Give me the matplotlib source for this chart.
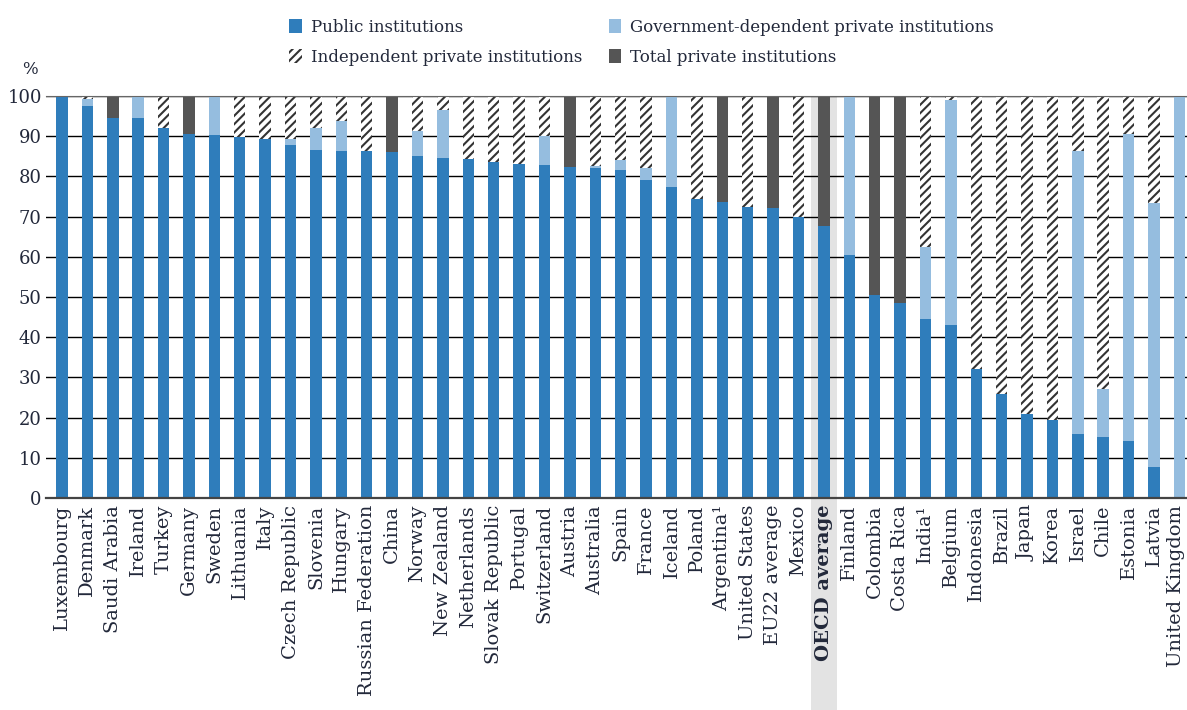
import numpy as np
import matplotlib
matplotlib.use('Agg')
import matplotlib.pyplot as plt

countries = ['Luxembourg', 'Denmark', 'Saudi Arabia', 'Ireland', 'Turkey', 'Germany', 'Sweden',
             'Lithuania', 'Italy', 'Czech Republic', 'Slovenia', 'Hungary', 'Russian Federation',
             'China', 'Norway', 'New Zealand', 'Netherlands', 'Slovak Republic', 'Portugal',
             'Switzerland', 'Austria', 'Australia', 'Spain', 'France', 'Iceland', 'Poland',
             'Argentina¹', 'United States', 'EU22 average', 'Mexico', 'OECD average', 'Finland',
             'Colombia', 'Costa Rica', 'India¹', 'Belgium', 'Indonesia', 'Brazil', 'Japan', 'Korea',
             'Israel', 'Chile', 'Estonia', 'Latvia', 'United Kingdom']

public = [100, 97.5, 94.5, 94.5, 92.1, 90.6, 90.4, 89.8, 89.3, 87.7, 86.5, 86.4, 86.3,
          86.0, 85.0, 84.6, 84.4, 83.7, 83.2, 82.8, 82.4, 82.0, 81.7, 79.1, 77.4, 74.3,
          73.7, 72.3, 72.2, 70.0, 67.7, 60.4, 50.5, 48.6, 44.5, 43.0, 32.0, 25.8, 20.9, 19.5,
          16.0, 15.1, 14.3, 7.7, 0]
gov_dependent = [0, 1.7, 0, 5.5, 0, 0, 9.6, 0, 0, 1.7, 5.6, 7.3, 0,
                 0, 6.2, 12.0, 0, 0, 0, 7.2, 0, 0.7, 2.3, 3.0, 22.6, 0,
                 0, 0, 0, 0, 0, 39.6, 0, 0, 18.0, 56.1, 0, 0, 0, 0,
                 70.3, 12.0, 76.2, 65.8, 100]
independent = [0, 0.8, 0, 0, 7.9, 0, 0, 10.2, 10.7, 10.6, 7.9, 6.3, 13.7,
               0, 8.8, 3.4, 15.6, 16.3, 16.8, 10.0, 0, 17.3, 16.0, 17.9, 0, 25.7,
               0, 27.7, 0, 30.0, 0, 0, 0, 0, 37.5, 0.9, 68.0, 74.2, 79.1, 80.5,
               13.7, 72.9, 9.5, 26.5, 0]
total_private = [0, 0, 5.5, 0, 0, 9.4, 0, 0, 0, 0, 0, 0, 0,
                 14.0, 0, 0, 0, 0, 0, 0, 17.6, 0, 0, 0, 0, 0,
                 26.3, 0, 27.8, 0, 32.3, 0, 49.5, 51.4, 0, 0, 0, 0, 0, 0,
                 0, 0, 0, 0, 0]

plt.rcParams['font.family'] = ['DejaVu Serif']
plt.rcParams['hatch.linewidth'] = 1.5
text_col = '#22283a'

x = np.arange(len(countries))
pub = np.array(public)
gov = np.array(gov_dependent)
ind = np.array(independent)
tot = np.array(total_private)

fig = plt.figure(figsize=(11.87, 7.1), dpi=100)
ax = fig.add_axes([46 / 1187, 1 - 498 / 710, 1 - 46 / 1187, 402 / 710])

w = 0.45
ax.bar(x, pub, w, color='#2f7dbb', label='Public institutions', zorder=2)
ax.bar(x, gov, w, bottom=pub, color='#95bddf', label='Government-dependent private institutions', zorder=2)
ax.bar(x, ind, w, bottom=pub + gov, color='white', edgecolor='#333333', linewidth=0,
       hatch='////', label='Independent private institutions', zorder=2)
ax.bar(x, tot, w, bottom=pub + gov + ind, color='#555555', label='Total private institutions', zorder=2)

oecd = countries.index('OECD average')
ax.axvspan(oecd - 0.5, oecd + 0.5, ymin=-0.53, ymax=1, color='#e3e3e3', clip_on=False, zorder=0, lw=0)

ax.set_xlim(-0.63, 44.3)
ax.set_ylim(0, 100)
ax.set_yticks(range(0, 101, 10))
ax.yaxis.grid(True, color='black', linewidth=1)
ax.set_axisbelow(True)
ax.tick_params(axis='y', length=0, pad=3, labelsize=13, labelcolor=text_col)
ax.tick_params(axis='x', length=0, pad=5)
ax.set_xticks(x)
# last label is drawn separately so it does not run off the right edge
ax.set_xticklabels(countries[:-1] + [''], rotation=90, fontsize=14, color=text_col, va='top')
for lab in ax.get_xticklabels():
    if lab.get_text() == 'OECD average':
        lab.set_fontweight('bold')
ax.annotate(countries[-1], xy=(x[-1], 0), xycoords=('data', 'axes fraction'),
            xytext=(-2.5, -5), textcoords='offset points', rotation=90,
            ha='center', va='top', fontsize=14, color=text_col)

for s in ['left', 'right']:
    ax.spines[s].set_visible(False)
ax.spines['top'].set_color('#666666')
ax.spines['bottom'].set_color('#444444')
ax.spines['bottom'].set_linewidth(1.6)

fig.text(30 / 1187, 1 - 70 / 710, '%', fontsize=12, color=text_col, ha='center', va='center')

h, l = ax.get_legend_handles_labels()
order = [0, 2, 1, 3]
fig.legend([h[i] for i in order], [l[i] for i in order], ncol=2, loc='upper left',
           bbox_to_anchor=(289 / 1187, 1 - 19 / 710), frameon=False, fontsize=12,
           handlelength=0.75, handleheight=0.95, handletextpad=0.55, columnspacing=1.6,
           labelspacing=0.75, borderpad=0, borderaxespad=0, labelcolor=text_col)

plt.savefig('out.png', dpi=100)
